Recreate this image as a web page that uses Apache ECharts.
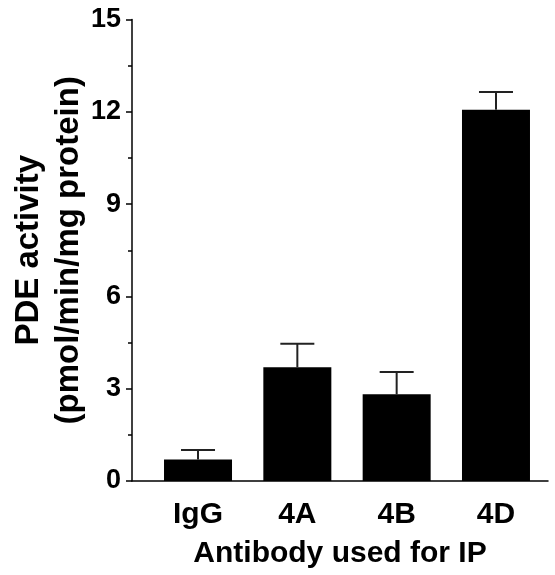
<!DOCTYPE html>
<html>
<head>
<meta charset="utf-8">
<script src="https://cdn.jsdelivr.net/npm/echarts@6/dist/echarts.min.js"></script>
<style>
html,body{margin:0;padding:0;background:#fff;}
#chart{width:555px;height:575px;}
</style>
</head>
<body>
<div id="chart"></div>
<script>
// ---- data ----
var categories = ['IgG', '4A', '4B', '4D'];
var means = [0.70, 3.70, 2.82, 12.07];
var errors = [0.31, 0.76, 0.72, 0.57];
var yTicks = [0, 3, 6, 9, 12, 15];

var FONT = '"Liberation Sans", Arial, sans-serif';
var chart = echarts.init(document.getElementById('chart'), null, {renderer: 'canvas'});

var errData = categories.map(function (c, i) { return [i, means[i], means[i] + errors[i]]; });

var option = {
  backgroundColor: '#fff',
  animation: false,
  grid: [
    {left: 148.35, width: 397.3, top: 19.5, bottom: 94, containLabel: false, outerBoundsMode: 'none'},
    {left: 132, width: 416, top: 19.5, bottom: 94, containLabel: false, outerBoundsMode: 'none'}
  ],
  xAxis: [
    {
      type: 'category', gridIndex: 0, data: categories,
      axisLine: {show: false}, axisTick: {show: false},
      axisLabel: {fontFamily: FONT, fontWeight: 'bold', fontSize: 30, color: '#000', margin: 19}
    },
    {
      type: 'value', gridIndex: 1, min: 0, max: 1,
      axisLine: {show: true, lineStyle: {color: '#000', width: 1.5}},
      axisTick: {show: false}, axisLabel: {show: false}, splitLine: {show: false},
      name: 'Antibody used for IP', nameLocation: 'middle', nameGap: 58, nameMoveOverlap: false,
      nameTextStyle: {fontFamily: FONT, fontWeight: 'bold', fontSize: 30, color: '#000'}
    }
  ],
  yAxis: [
    {
      type: 'value', gridIndex: 0, min: 0, max: 15, show: false
    },
    {
      type: 'value', gridIndex: 1, min: yTicks[0], max: yTicks[yTicks.length - 1], interval: 3,
      axisLine: {show: true, lineStyle: {color: '#000', width: 1.5}},
      axisTick: {show: true, length: 6, lineStyle: {color: '#000', width: 1.5}},
      minorTick: {show: true, splitNumber: 2, length: 4, lineStyle: {color: '#000', width: 1.5}},
      splitLine: {show: false},
      axisLabel: {fontFamily: FONT, fontWeight: 'bold', fontSize: 27, color: '#000', margin: 11},
      name: 'PDE activity\n(pmol/min/mg protein)', nameLocation: 'middle', nameGap: 43, nameMoveOverlap: false,
      nameTextStyle: {fontFamily: FONT, fontWeight: 'bold', fontSize: 33, color: '#000', lineHeight: 40}
    }
  ],
  series: [
    {
      type: 'bar', xAxisIndex: 0, yAxisIndex: 0, data: means, barWidth: 68,
      itemStyle: {color: '#000'}
    },
    {
      type: 'custom', xAxisIndex: 0, yAxisIndex: 0, data: errData,
      renderItem: function (params, api) {
        var x = api.value(0);
        var p0 = api.coord([x, api.value(1)]);
        var p1 = api.coord([x, api.value(2)]);
        var hw = 17;
        var st = {stroke: '#222', lineWidth: 2};
        return {
          type: 'group',
          children: [
            {type: 'line', shape: {x1: p0[0], y1: p0[1], x2: p1[0], y2: p1[1]}, style: st},
            {type: 'line', shape: {x1: p1[0] - hw, y1: p1[1], x2: p1[0] + hw, y2: p1[1]}, style: st}
          ]
        };
      },
      z: 1
    }
  ]
};
chart.setOption(option);
</script>
</body>
</html>
